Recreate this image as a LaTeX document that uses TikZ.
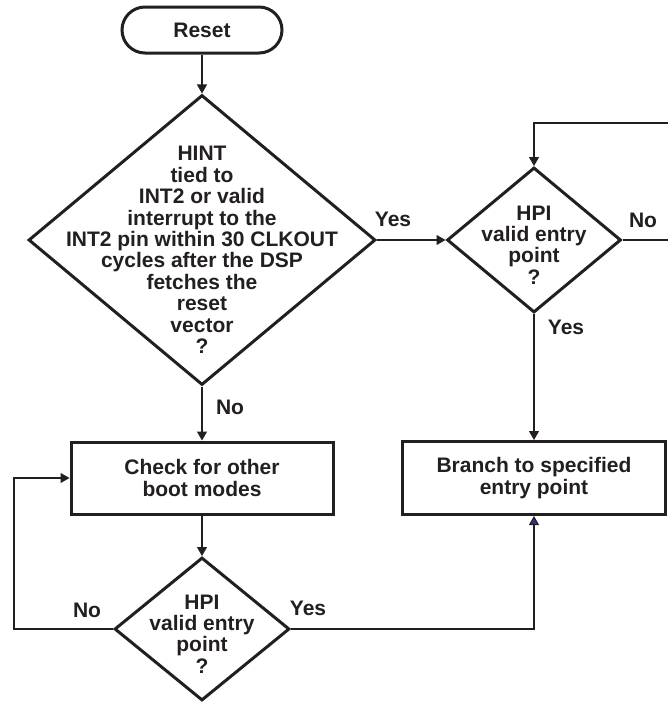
\documentclass[tikz,border=0pt]{standalone}
\usepackage{fontspec}
\setmainfont{Liberation Sans}
\usetikzlibrary{positioning, arrows.meta, shapes.geometric}
\definecolor{ink}{HTML}{231F20}
\definecolor{tipblue}{HTML}{2E3192}

\begin{document}
\begin{tikzpicture}[x=0.5pt, y=-0.5pt,
	every node/.style={font=\fontsize{10.5}{10.7}\selectfont\bfseries, text=ink},
	box/.style={rectangle, draw=ink, line width=1.5pt, align=center},
	decision/.style={diamond, draw=ink, line width=1.5pt, inner sep=0pt},
	conn/.style={draw=ink, line width=0.6pt, -{Triangle[length=4.5pt, width=5pt]}}]
	
	\useasboundingbox (0,0) rectangle (668,702);
	
	% Start of the boot sequence
	\node (reset) at (202,30) [box, rounded corners=11.5pt, minimum width=80pt, minimum height=23pt] {Reset};
	
	% First test (HINT tied to INT2)
	\node (q1) at (202,240) [decision, minimum width=173.5pt, minimum height=145pt] {};
	\node (q1txt) at (202,250) [align=center] {HINT\\tied to\\INT2 or valid\\interrupt to the\\INT2 pin within 30 CLKOUT\\cycles after the DSP\\fetches the\\reset\\vector\\?};
	
	% HPI test on the right
	\node (q2) at (534,240) [decision, minimum width=87pt, minimum height=72.5pt] {};
	\node (q2txt) at (534,245) [align=center] {HPI\\valid entry\\point\\?};
	
	% Process boxes
	\node (check) at (202,478) [box, minimum width=131pt, minimum height=36pt] {Check for other\\boot modes};
	\node (branch) at (534,478) [box, minimum width=131.5pt, minimum height=36.5pt] {Branch to specified\\entry point};
	
	% HPI test at the bottom
	\node (q3) at (202,629) [decision, minimum width=87.5pt, minimum height=71.5pt] {};
	\node (q3txt) at (202,634) [align=center] {HPI\\valid entry\\point\\?};
	
	% Branch labels
	\node (yes1) at (393,219) {Yes};
	\node (no1) at (230,407) {No};
	\node (no2) at (643,220) {No};
	\node (yes2) at (566,327) {Yes};
	\node (no3) at (87,610) {No};
	\node (yes3) at (308,608) {Yes};
	
	% Corners of the loops
	\coordinate (loopR) at (670,123);
	\coordinate (loopL) at (14,629);
	
	% Connectors
	\draw[conn] (reset) -- (q1);
	\draw[conn] (q1.east) -- (q2.west);
	\draw[conn] (q1) -- (check);
	\draw[conn] (q2) -- (branch);
	\draw[conn] (check) -- (q3);
	\draw[conn] (q2.east) -| (loopR) -| (q2.north);
	\draw[conn] (q3.west) -- (loopL) |- (check.west);
	\draw[conn, -{Triangle[length=4.5pt, width=5pt, fill=tipblue]}] (q3.east) -| (branch.south);
\end{tikzpicture}
\end{document}
